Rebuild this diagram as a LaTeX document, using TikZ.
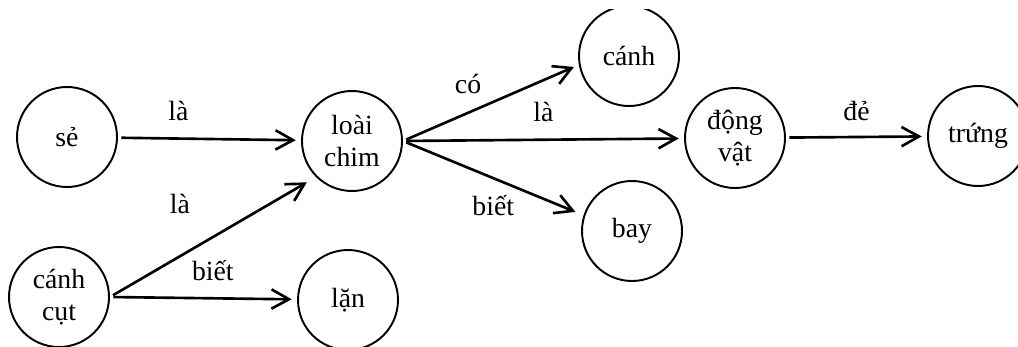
\documentclass[tikz,border=0pt]{standalone}
\usepackage{fontspec}
\setmainfont{Liberation Serif}
\usetikzlibrary{arrows.meta}

\begin{document}
\begin{tikzpicture}[shorten >=3pt,shorten <=2pt,-{Straight Barb[length=10pt,width=11pt]}]
        \tikzstyle{concept}=[circle,draw=black,line width=1.1pt,minimum size=2cm,inner sep=0pt,align=center,font=\fontsize{15.8}{18}\selectfont]
        \tikzstyle{link}=[draw, line width=1.5pt]
        \tikzstyle{rel}=[font=\fontsize{15.8}{18}\selectfont]
        \useasboundingbox (0,0) rectangle (20.36,6.92);
        \clip (0,0) rectangle (20.36,6.74);
       \begin{scope}
         \node [concept] (se) at (1.34,4.18) {sẻ};
         \node [concept] (chim) at (7.04,4.10) {loài\\chim};
         \node [concept] (canhcut) at (1.18,0.98) {cánh\\cụt};
         \node [concept] (lan) at (6.96,0.92) {lặn};
         \node [concept] (canh) at (12.58,5.80) {cánh};
         \node [concept] (dongvat) at (14.70,4.16) {động\\vật};
         \node [concept] (trung) at (19.56,4.20) {trứng};
         \node [concept] (bay) at (12.64,2.30) {bay};

         \path (se) edge [link] node[rel,above=6pt,pos=.33] {là} (chim);
         \path (canhcut.east) edge [link,shorten >=6pt] node[rel,above=20pt,pos=.34] {là} (chim.225);
         \path (canhcut.east) edge [link] node[rel,above=6pt,pos=.55] {biết} (lan);
         \path (chim.east) edge [link] node[rel,above=7pt,pos=.37] {có} (canh.190);
         \path (chim.east) edge [link] node[rel,above=6pt,pos=.5] {là} (dongvat);
         \path (chim.east) edge [link,shorten >=5pt] node[rel,below=6pt,pos=.5] {biết} (bay.162);
         \path (dongvat) edge [link] node[rel,above=5pt,pos=.5] {đẻ} (trung);

        \end{scope}
      \end{tikzpicture}
\end{document}
